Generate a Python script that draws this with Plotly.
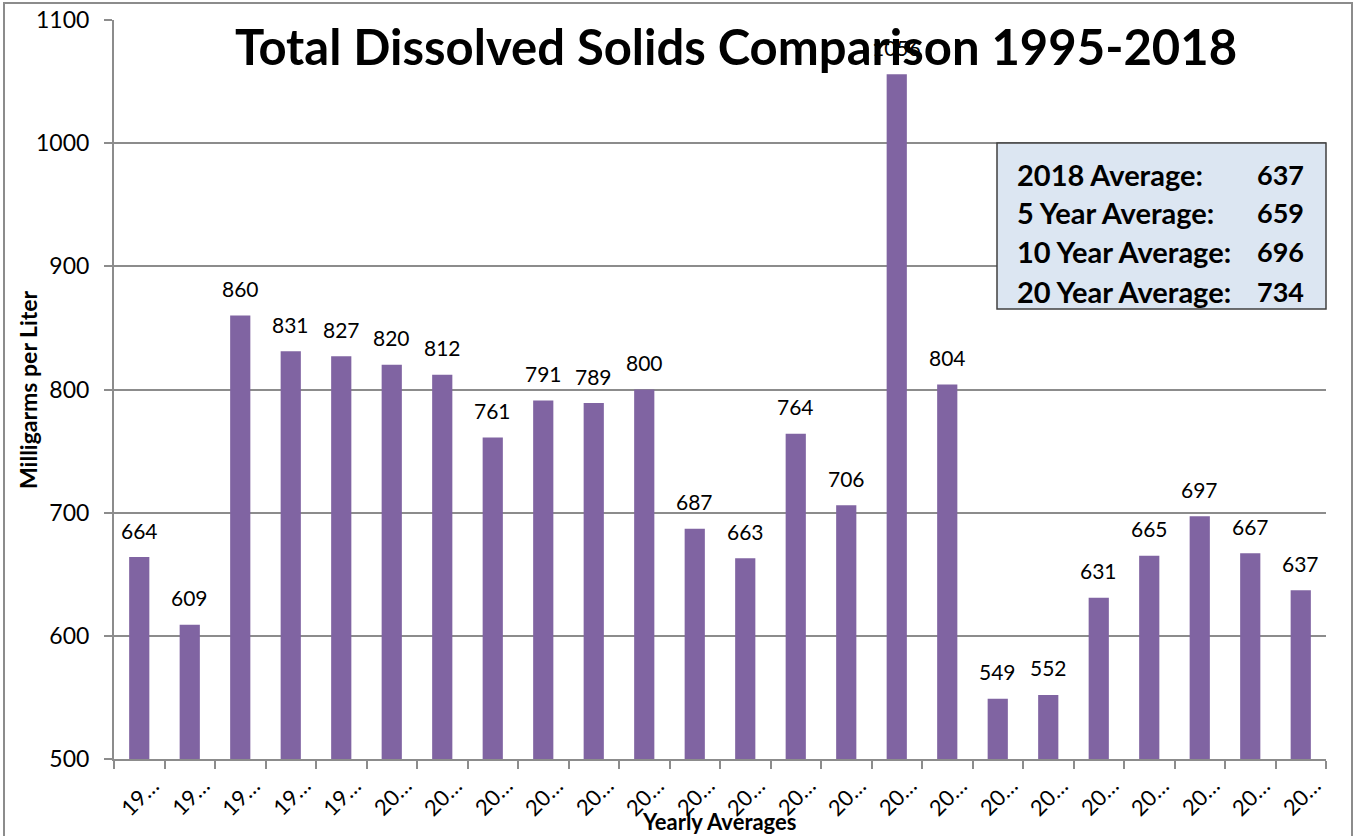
import plotly.graph_objects as go

years = [str(y) for y in range(1995, 2019)]
tds = [664, 609, 860, 831, 827, 820, 812, 761, 791, 789, 800, 687, 663, 764,
       706, 1056, 804, 549, 552, 631, 665, 697, 667, 637]
tick_text = [y[:2] + "…" for y in years]
y_ticks = [500, 600, 700, 800, 900, 1000, 1100]

box_labels = ["2018 Average:", "5 Year Average:", "10 Year Average:", "20 Year Average:"]
box_values = ["637", "659", "696", "734"]

FONT = "Lato"
grid = "#8c8c8c"

fig = go.Figure(go.Bar(
    x=years, y=tds, marker=dict(color="#8064A2", line=dict(width=0)),
    width=0.4, hoverinfo="x+y",
))

W, H = 1357, 836
L, R, T, B = 114, 31, 20, 77
pw, ph = W - L - R, H - T - B

def px(x):
    return (x - L) / pw

def py(y):
    return (H - B - y) / ph

fig.update_layout(
    width=W, height=H, margin=dict(l=L, r=R, t=T, b=B, autoexpand=False),
    paper_bgcolor="white", plot_bgcolor="white", showlegend=False,
    font=dict(family=FONT, color="black"),
    title=dict(text="<b>Total Dissolved Solids Comparison 1995-2018</b>",
               xref="container", yref="container",
               x=736 / W, y=1 - 48 / H, xanchor="center", yanchor="middle",
               font=dict(family=FONT, size=49, color="black")),
)
fig.update_xaxes(
    type="category", range=[-0.5, len(years) - 0.5], tickmode="array",
    tickvals=years, ticktext=tick_text,
    showticklabels=False, showline=True,
    linecolor=grid, linewidth=2, ticks="outside", tickson="boundaries",
    ticklen=8, tickcolor=grid, tickwidth=2, showgrid=False, automargin=False,
)
fig.update_yaxes(
    range=[500, 1100], tickvals=y_ticks, tickfont=dict(family=FONT, size=23),
    showline=True, linecolor=grid, linewidth=2, ticks="outside", ticklen=8,
    tickcolor=grid, tickwidth=2, showgrid=True, gridcolor=grid, gridwidth=2,
    zeroline=False, automargin=False, ticklabelstandoff=10,
)

# data labels above bars
for i, v in enumerate(tds):
    fig.add_annotation(xref="x", yref="y", x=i, y=v, yshift=27,
                       xanchor="center", yanchor="middle", showarrow=False,
                       text=str(v), font=dict(family=FONT, size=21))

# rotated category labels
for i, lab in enumerate(tick_text):
    fig.add_annotation(xref="x", yref="paper", x=i, y=py(796),
                       xanchor="center", yanchor="middle", showarrow=False,
                       textangle=-45, text=lab, font=dict(family=FONT, size=22))

# axis titles
fig.add_annotation(xref="paper", yref="paper", x=px(719), y=py(821),
                   xanchor="center", yanchor="middle", showarrow=False,
                   text="<b>Yearly Averages</b>", font=dict(family=FONT, size=22))
fig.add_annotation(xref="paper", yref="paper", x=px(28), y=py(390),
                   xanchor="center", yanchor="middle", showarrow=False, textangle=-90,
                   text="<b>Milligarms per Liter</b>", font=dict(family=FONT, size=23))

# outer chart border
fig.add_shape(type="rect", xref="paper", yref="paper",
              x0=px(4), x1=px(1352), y0=py(842), y1=py(3),
              line=dict(color="#8c8c8c", width=2), layer="below")

# averages box
fig.add_shape(type="rect", xref="paper", yref="paper",
              x0=px(997), x1=px(1326), y0=py(309), y1=py(143),
              fillcolor="#DCE6F2", line=dict(color="#404040", width=1.5))
for i, (lab, val) in enumerate(zip(box_labels, box_values)):
    yc = 174 + i * 39
    fig.add_annotation(xref="paper", yref="paper", x=px(1015), y=py(yc),
                       xanchor="left", yanchor="middle", showarrow=False,
                       text="<b>" + lab + "</b>", font=dict(family=FONT, size=29))
    fig.add_annotation(xref="paper", yref="paper", x=px(1306), y=py(yc),
                       xanchor="right", yanchor="middle", showarrow=False,
                       text="<b>" + val + "</b>", font=dict(family=FONT, size=27))

fig.write_html("out.html", config={"displayModeBar": False},
               post_script="document.body.style.margin='0';")
